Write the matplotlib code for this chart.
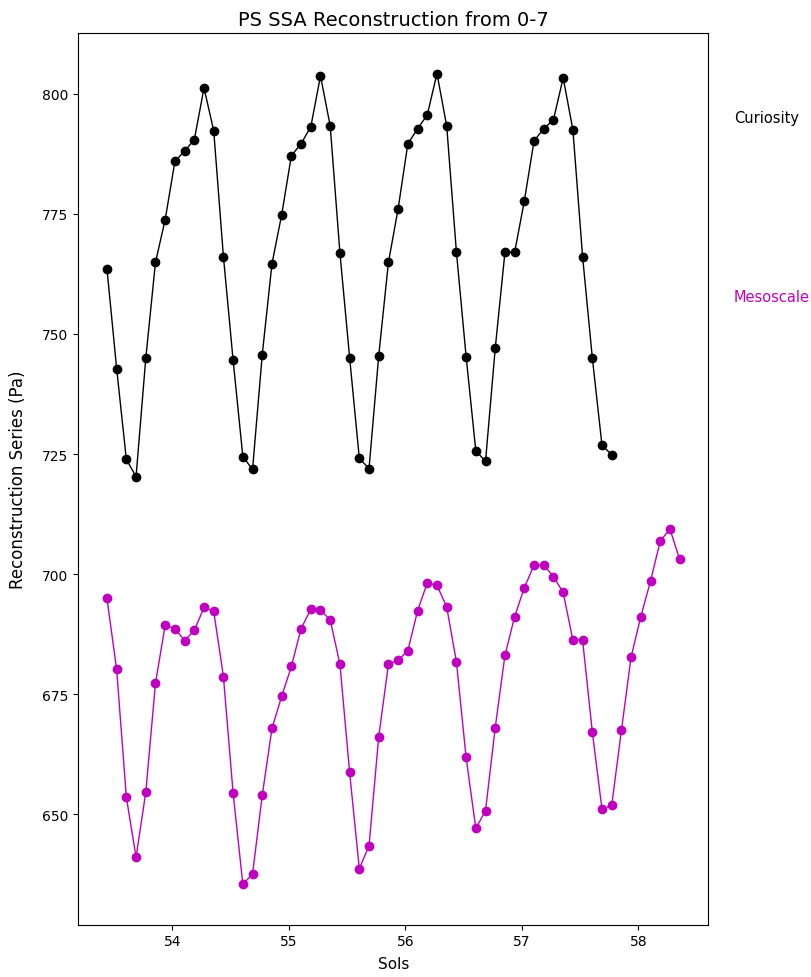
import numpy as np
import matplotlib
matplotlib.use("Agg")
import matplotlib.pyplot as plt

# Sampling grid: one value every 2 hours (1/12 sol)
sol_start = 53.438
sol_step = 1.0 / 12.0

curiosity = [
    763.6, 742.8, 723.9, 720.3, 744.9, 764.9, 773.8, 785.9, 788.1, 790.4,
    801.2, 792.3, 766.1, 744.5, 724.5, 721.8, 745.7, 764.6, 774.8, 787.1,
    789.6, 793.1, 803.7, 793.3, 766.9, 745.1, 724.1, 722.0, 745.5, 764.9,
    776.1, 789.6, 792.7, 795.6, 804.2, 793.3, 767.1, 745.3, 725.7, 723.5,
    747.0, 767.0, 767.0, 777.7, 790.2, 792.7, 794.6, 803.3, 792.5, 766.1,
    745.1, 726.8, 724.9,
]

mesoscale = [
    695.0, 680.2, 653.6, 641.1, 654.6, 677.3, 689.4, 688.7, 686.2, 688.3,
    693.1, 692.3, 678.7, 654.4, 635.5, 637.6, 654.0, 667.9, 674.6, 680.8,
    688.7, 692.7, 692.5, 690.5, 681.3, 658.8, 638.7, 643.5, 666.2, 681.3,
    682.1, 684.1, 692.4, 698.2, 697.7, 693.2, 681.8, 661.9, 647.1, 650.8,
    668.1, 683.1, 691.2, 697.2, 701.9, 701.9, 699.5, 696.2, 686.3, 686.3,
    667.2, 651.1, 651.9, 667.5, 682.8, 691.2, 698.6, 706.9, 709.4, 703.1,
]

series_names = ["Curiosity", "Mesoscale"]
series_colors = ["k", "m"]

sols_cur = sol_start + sol_step * np.arange(len(curiosity))
sols_meso = sol_start + sol_step * np.arange(len(mesoscale))

fig = plt.figure(figsize=(8.11, 9.78), dpi=100)
ax = fig.add_axes([78.3 / 811, 1 - 925.7 / 978, (708.3 - 78.3) / 811, (925.7 - 34) / 978])

ax.plot(sols_cur, curiosity, "-o", color=series_colors[0], linewidth=1.0)
ax.plot(sols_meso, mesoscale, "-o", color=series_colors[1], linewidth=1.0)

ax.set_title("PS SSA Reconstruction from 0-7", fontsize=14)
ax.set_xlabel("Sols", fontsize=11)
ax.set_ylabel("Reconstruction Series (Pa)", fontsize=12)
ax.xaxis.set_label_coords(0.5, -0.0351)
ax.yaxis.set_label_coords(-0.0819, 0.5)

# Series names placed to the right of the plotting area
ax.text(58.822, 795.1, series_names[0], color=series_colors[0],
        ha="left", va="center", fontsize=10.5, clip_on=False)
ax.text(58.822, 757.9, series_names[1], color=series_colors[1],
        ha="left", va="center", fontsize=10.5, clip_on=False)

fig.savefig("out.png", dpi=100)
